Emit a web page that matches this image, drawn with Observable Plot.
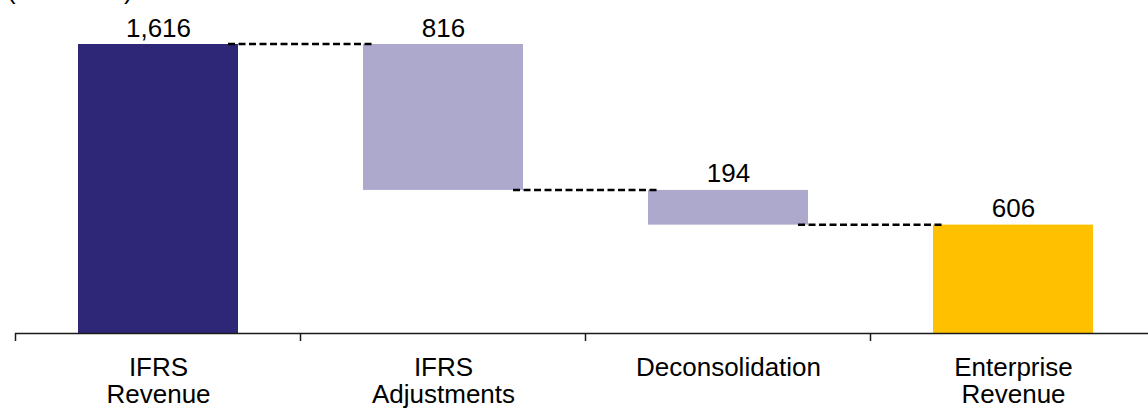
<!DOCTYPE html>
<html>
<head>
<meta charset="utf-8">
<script src="https://cdn.jsdelivr.net/npm/d3@7"></script>
<script src="https://cdn.jsdelivr.net/npm/@observablehq/plot@0.6"></script>
<style>
  html, body { margin: 0; padding: 0; background: #fff; overflow: hidden; }
  #wrap { position: relative; width: 1148px; height: 410px; font-family: "Liberation Sans", Arial, sans-serif; }
  #unit { position: absolute; left: 7px; top: -23px; font-size: 26px; line-height: 26px; color: #000; white-space: nowrap; }
  #chart { position: absolute; left: 0; top: 0; }
</style>
</head>
<body>
<div id="wrap">
  <div id="unit">(€ millions)</div>
  <div id="chart"></div>
</div>
<script>
// Revenue bridge: IFRS revenue down to enterprise revenue
const categories = ["IFRS Revenue", "IFRS Adjustments", "Deconsolidation", "Enterprise Revenue"];
const amounts = [1616, -816, -194, 606];
const kinds = ["start", "decrease", "decrease", "end"];

// fill per step kind
const kindDomain = ["start", "decrease", "end"];
const kindColors = ["#2e2778", "#aca9cc", "#ffc000"];

// Build floating bars from the running total
let running = 0;
const rows = categories.map((category, i) => {
  const v = amounts[i];
  let y1, y2;
  if (kinds[i] === "decrease") {
    y1 = running;
    y2 = running + v;
  } else {
    y1 = 0;
    y2 = v;
  }
  running = y2;
  return {category, kind: kinds[i], y1, y2, top: Math.max(y1, y2), level: y2, amount: Math.abs(v)};
});

const links = rows.slice(0, -1).map((r, i) => ({from: r.category, to: rows[i + 1].category, level: r.level}));

const fmt = d3.format(",");
const ink = "#1a1a1a";

// Category boundary ticks under the baseline
function boundaryTicks(index, {x, y}) {
  const gap = x.step() - x.bandwidth();
  const base = y(0);
  const xs = categories.map(c => x(c) - gap / 2);
  xs.push(x(categories[categories.length - 1]) + x.bandwidth() + gap / 2);
  const g = d3.create("svg:g").attr("stroke", ink).attr("stroke-width", 1.5);
  g.selectAll("line").data(xs).join("line")
    .attr("x1", d => d).attr("x2", d => d)
    .attr("y1", base).attr("y2", base + 8);
  return g.node();
}

// Dashed connectors between consecutive bars
function connectors(index, {x, y}) {
  const bw = x.bandwidth();
  const overlap = x.step() * 0.035;
  const g = d3.create("svg:g")
    .attr("stroke", "#000")
    .attr("stroke-width", 2.5)
    .attr("stroke-dasharray", "7,3.5");
  g.selectAll("line").data(links).join("line")
    .attr("x1", d => x(d.from) + bw - overlap)
    .attr("x2", d => x(d.to) + overlap)
    .attr("y1", d => y(d.level))
    .attr("y2", d => y(d.level));
  return g.node();
}

const chart = Plot.plot({
  width: 1148,
  height: 410,
  marginTop: 44,
  marginBottom: 77,
  marginLeft: 15,
  marginRight: 0,
  style: {
    fontFamily: "'Liberation Sans', Arial, sans-serif",
    fontSize: "26px",
    color: "#000",
    background: "transparent"
  },
  x: {domain: categories, range: [15, 1155], paddingInner: 0.44, paddingOuter: 0.22, label: null},
  y: {domain: [0, d3.max(rows, d => d.top)], axis: null},
  color: {domain: kindDomain, range: kindColors},
  marks: [
    Plot.barY(rows, {x: "category", y1: "y1", y2: "y2", fill: "kind"}),
    Plot.ruleY([0], {stroke: ink, strokeWidth: 1.5}),
    boundaryTicks,
    connectors,
    Plot.text(rows, {
      x: "category",
      y: "top",
      text: d => fmt(d.amount),
      lineAnchor: "bottom",
      dy: -8,
      fontSize: 26,
      fill: "#000"
    }),
    Plot.axisX({
      tickSize: 0,
      tickPadding: 23,
      tickFormat: d => d.replace(" ", "\n"),
      fontSize: 26,
      lineHeight: 1.04,
      fill: "#000",
      label: null
    })
  ]
});

document.getElementById("chart").appendChild(chart);
</script>
</body>
</html>
